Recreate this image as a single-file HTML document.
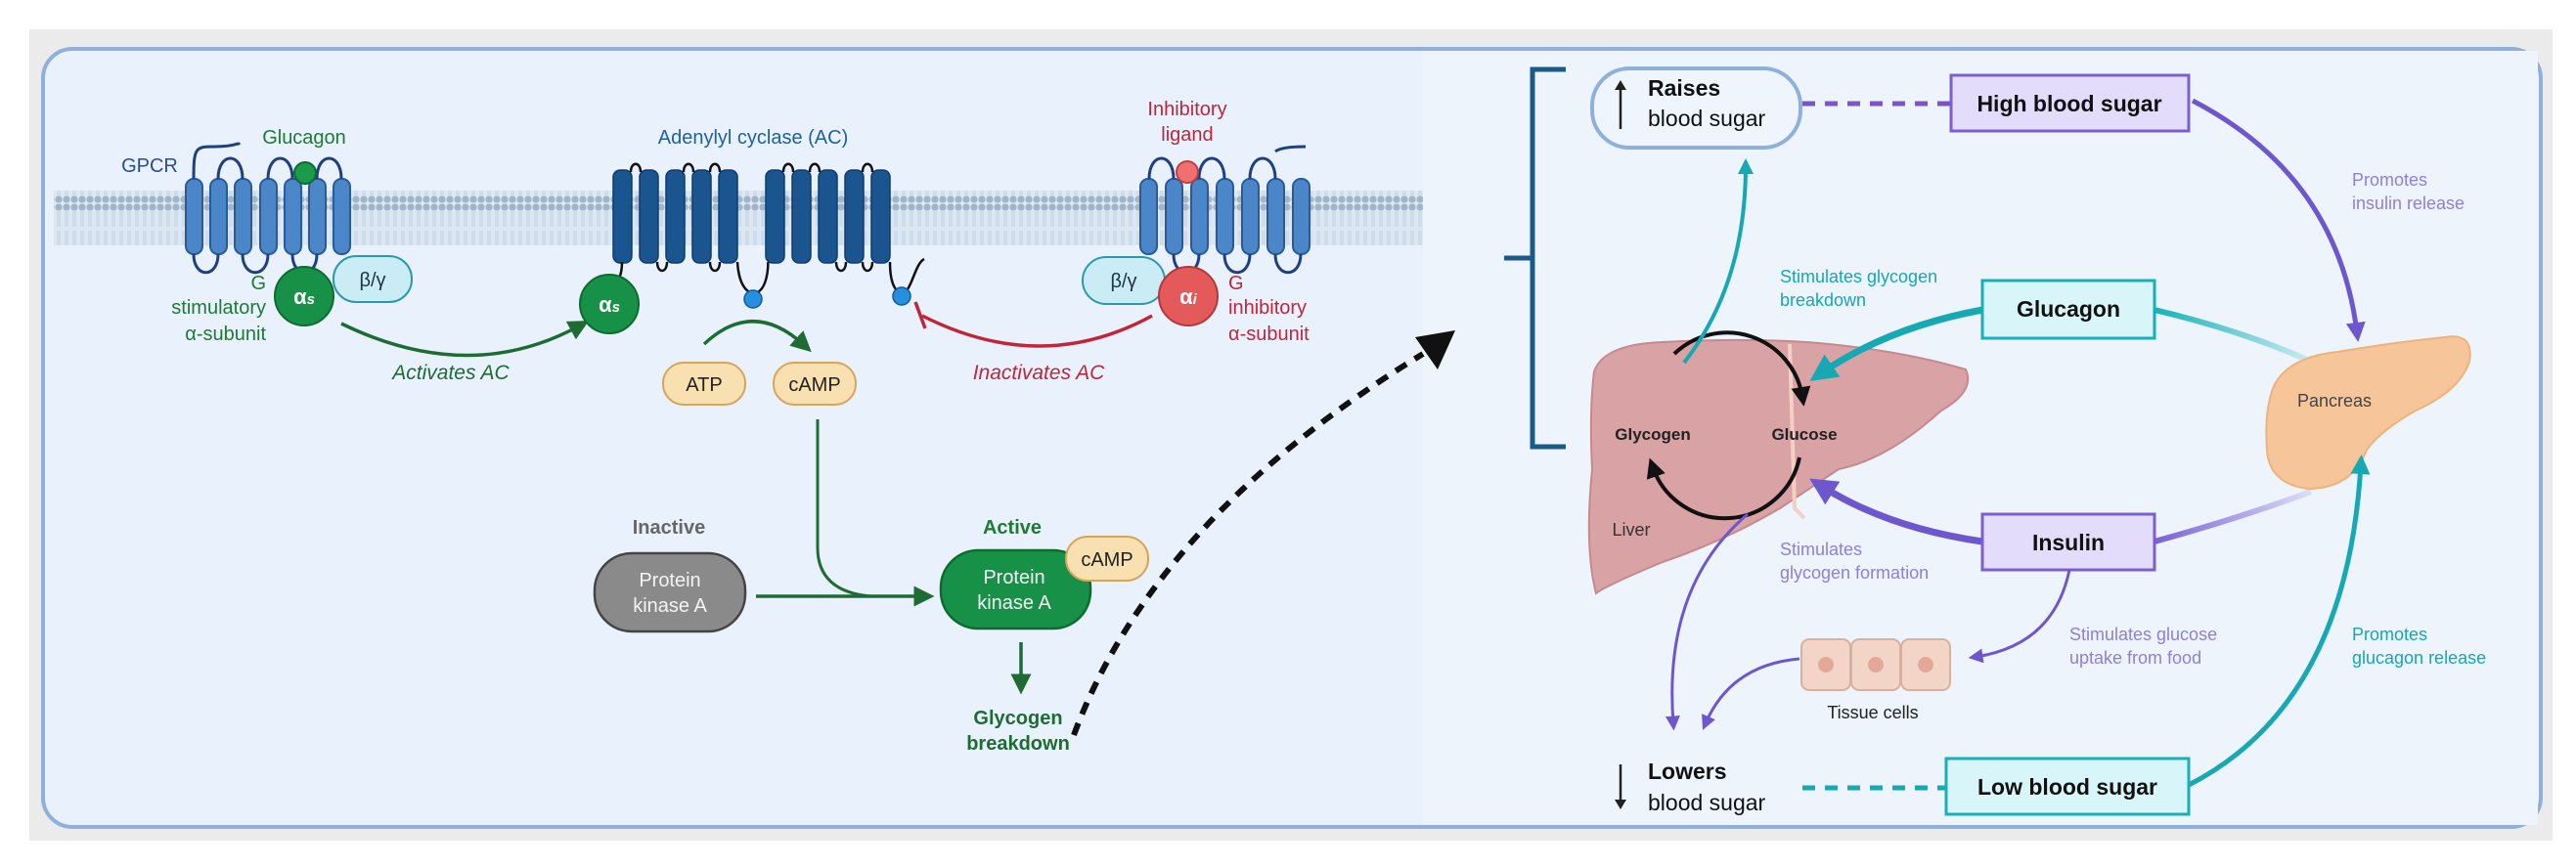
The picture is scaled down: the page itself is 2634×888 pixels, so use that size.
<!DOCTYPE html>
<html><head><meta charset="utf-8"><style>
html,body{margin:0;padding:0;background:#fff;}
svg{display:block;font-family:"Liberation Sans",sans-serif;}
</style></head><body>
<svg width="2634" height="888" viewBox="0 0 2634 888" xmlns="http://www.w3.org/2000/svg">
<defs>
<pattern id="lip" x="0" y="0" width="8" height="52" patternUnits="userSpaceOnUse">
<rect width="8" height="52" fill="#dbe7f3"/>
<circle cx="4" cy="4" r="3.6" fill="#a3b6c9"/>
<circle cx="4" cy="48" r="3.6" fill="#a3b6c9"/>
<line x1="3" y1="8" x2="3" y2="24" stroke="#c3d2e0" stroke-width="1"/>
<line x1="5" y1="8" x2="5" y2="24" stroke="#c3d2e0" stroke-width="1"/>
<line x1="3" y1="28" x2="3" y2="44" stroke="#c3d2e0" stroke-width="1"/>
<line x1="5" y1="28" x2="5" y2="44" stroke="#c3d2e0" stroke-width="1"/>
</pattern>
<marker id="mg" markerWidth="6" markerHeight="6" refX="3" refY="3" orient="auto" markerUnits="strokeWidth"><path d="M0,0 L6,3 L0,6 Z" fill="#1e6b34"/></marker>
<marker id="mk" markerWidth="5" markerHeight="5" refX="2.5" refY="2.5" orient="auto" markerUnits="strokeWidth"><path d="M0,0 L5,2.5 L0,5 Z" fill="#111"/></marker>
<marker id="mt" markerWidth="4" markerHeight="4" refX="2" refY="2" orient="auto" markerUnits="strokeWidth"><path d="M0,0 L4,2 L0,4 Z" fill="#17a9b3"/></marker>
<marker id="mp" markerWidth="4" markerHeight="4" refX="2" refY="2" orient="auto" markerUnits="strokeWidth"><path d="M0,0 L4,2 L0,4 Z" fill="#6e56cf"/></marker>
<marker id="mp2" markerWidth="5" markerHeight="5" refX="2.5" refY="2.5" orient="auto" markerUnits="strokeWidth"><path d="M0,0 L5,2.5 L0,5 Z" fill="#6e56cf"/></marker>
<linearGradient id="gg" gradientUnits="userSpaceOnUse" x1="2203" y1="317" x2="2372" y2="374"><stop offset="0" stop-color="#17b2b8"/><stop offset="1" stop-color="#17b2b8" stop-opacity="0.1"/></linearGradient>
<linearGradient id="gi" gradientUnits="userSpaceOnUse" x1="2203" y1="554" x2="2363" y2="503"><stop offset="0" stop-color="#7a62d6"/><stop offset="1" stop-color="#7a62d6" stop-opacity="0.15"/></linearGradient>
</defs>
<rect x="30" y="30" width="2580" height="830" fill="#ebebeb"/>
<rect x="44" y="50" width="2554" height="796" rx="30" fill="#e9f2fc" stroke="#8fb0dc" stroke-width="4"/>
<rect x="1455" y="52" width="1140" height="792" fill="#edf4fc"/>
<!-- membrane -->
<rect x="55" y="195" width="1400" height="56" fill="url(#lip)"/>
<!-- left GPCR -->
<g fill="#4a86c8" stroke="#2a5a9a" stroke-width="2">
<rect x="190" y="183" width="17" height="77" rx="8"/><rect x="215" y="183" width="17" height="77" rx="8"/><rect x="240" y="183" width="17" height="77" rx="8"/><rect x="266" y="183" width="17" height="77" rx="8"/><rect x="291" y="183" width="17" height="77" rx="8"/><rect x="316" y="183" width="17" height="77" rx="8"/><rect x="341" y="183" width="17" height="77" rx="8"/>
</g>
<g fill="none" stroke="#1f3f80" stroke-width="3">
<path d="M198,183 C198,150 200,150 220,150 C243,150 243,145 245,148"/>
<path d="M223,183 C223,155 248,155 248,183"/><path d="M274,183 C274,155 299,155 299,183"/><path d="M324,183 C324,155 349,155 349,183"/>
<path d="M198,260 C198,285 223,285 223,260"/><path d="M248,260 C248,285 274,285 274,260"/><path d="M299,260 C299,285 324,285 324,260"/>
</g>
<circle cx="312" cy="177" r="11" fill="#1a9a4a" stroke="#0d6b2e" stroke-width="2"/>
<text x="153" y="176" font-size="20" fill="#2a4f8e" text-anchor="middle">GPCR</text>
<text x="311" y="147" font-size="20" fill="#1e7a34" text-anchor="middle">Glucagon</text>
<rect x="341" y="262" width="80" height="47" rx="23" fill="#c9ecf5" stroke="#2a9aaa" stroke-width="2"/>
<text x="381" y="293" font-size="20" fill="#234" text-anchor="middle">β/γ</text>
<circle cx="311" cy="303" r="30" fill="#179147" stroke="#0d6b2e" stroke-width="2"/>
<text x="311" y="311" font-size="22" font-weight="bold" fill="#fff" text-anchor="middle">α<tspan font-size="15" font-style="italic">s</tspan></text>
<g font-size="20" fill="#1e7a34" text-anchor="end"><text x="272" y="296">G</text><text x="272" y="321">stimulatory</text><text x="272" y="348">α-subunit</text></g>
<path d="M349,331 Q480,395 593,333" fill="none" stroke="#1e6b34" stroke-width="3.5" marker-end="url(#mg)"/>
<text x="461" y="388" font-size="21" font-style="italic" fill="#1e6b34" text-anchor="middle">Activates AC</text>
<!-- AC -->
<g fill="#1a5590" stroke="#0e3d6e" stroke-width="1.5">
<rect x="627" y="174" width="19" height="95" rx="7"/><rect x="654" y="174" width="19" height="95" rx="7"/><rect x="681" y="174" width="19" height="95" rx="7"/><rect x="708" y="174" width="19" height="95" rx="7"/><rect x="735" y="174" width="19" height="95" rx="7"/>
<rect x="783" y="174" width="19" height="95" rx="7"/><rect x="810" y="174" width="19" height="95" rx="7"/><rect x="837" y="174" width="19" height="95" rx="7"/><rect x="864" y="174" width="19" height="95" rx="7"/><rect x="891" y="174" width="19" height="95" rx="7"/>
</g>
<g fill="none" stroke="#111" stroke-width="2.5">
<path d="M645,176 C645,165 655,165 655,176"/><path d="M699,176 C699,165 709,165 709,176"/><path d="M726,176 C726,165 736,165 736,176"/>
<path d="M801,176 C801,165 811,165 811,176"/><path d="M828,176 C828,165 838,165 838,176"/><path d="M882,176 C882,165 892,165 892,176"/>
<path d="M672,268 C672,280 682,280 682,268"/><path d="M726,268 C726,280 736,280 736,268"/><path d="M855,268 C855,280 865,280 865,268"/><path d="M882,268 C882,280 892,280 892,268"/>
<path d="M754,268 C756,300 770,300 770,300 C785,300 786,270 785,268"/>
<path d="M910,268 C910,300 922,300 922,300 C932,300 935,270 945,265"/>
<path d="M636,268 C636,285 630,290 626,290"/>
</g>
<circle cx="770" cy="306" r="9" fill="#2a8ee0" stroke="#0e5a9e" stroke-width="1.5"/>
<circle cx="922" cy="303" r="9" fill="#2a8ee0" stroke="#0e5a9e" stroke-width="1.5"/>
<text x="770" y="147" font-size="20" fill="#1f5f9f" text-anchor="middle">Adenylyl cyclase (AC)</text>
<circle cx="623" cy="311" r="30" fill="#179147" stroke="#0d6b2e" stroke-width="2"/>
<text x="623" y="319" font-size="22" font-weight="bold" fill="#fff" text-anchor="middle">α<tspan font-size="15" font-style="italic">s</tspan></text>
<path d="M720,352 Q770,305 822,353" fill="none" stroke="#1e6b34" stroke-width="3.5" marker-end="url(#mg)"/>
<rect x="678" y="371" width="84" height="43" rx="21" fill="#f9e0b0" stroke="#d5a55c" stroke-width="2"/>
<text x="720" y="400" font-size="20" fill="#222" text-anchor="middle">ATP</text>
<rect x="791" y="371" width="84" height="43" rx="21" fill="#f9e0b0" stroke="#d5a55c" stroke-width="2"/>
<text x="833" y="400" font-size="20" fill="#222" text-anchor="middle">cAMP</text>
<!-- inhibit -->
<path d="M1178,323 Q1065,385 943,323" fill="none" stroke="#c0253a" stroke-width="3.5"/>
<line x1="936" y1="309" x2="946" y2="336" stroke="#c0253a" stroke-width="3.5"/>
<text x="1062" y="388" font-size="21" font-style="italic" fill="#c0253a" text-anchor="middle">Inactivates AC</text>
<text x="1214" y="118" font-size="20" fill="#c0253a" text-anchor="middle">Inhibitory</text>
<text x="1214" y="144" font-size="20" fill="#c0253a" text-anchor="middle">ligand</text>
<g fill="#4a86c8" stroke="#2a5a9a" stroke-width="2">
<rect x="1166" y="183" width="17" height="77" rx="8"/><rect x="1192" y="183" width="17" height="77" rx="8"/><rect x="1218" y="183" width="17" height="77" rx="8"/><rect x="1244" y="183" width="17" height="77" rx="8"/><rect x="1270" y="183" width="17" height="77" rx="8"/><rect x="1296" y="183" width="17" height="77" rx="8"/><rect x="1322" y="183" width="17" height="77" rx="8"/>
</g>
<g fill="none" stroke="#1f3f80" stroke-width="3">
<path d="M1175,183 C1175,155 1200,155 1200,183"/><path d="M1226,183 C1226,155 1252,155 1252,183"/><path d="M1278,183 C1278,155 1304,155 1304,183"/>
<path d="M1304,155 C1310,150 1330,150 1335,150"/>
<path d="M1200,260 C1200,285 1226,285 1226,260"/><path d="M1252,260 C1252,285 1278,285 1278,260"/><path d="M1304,260 C1304,285 1330,285 1330,260"/>
</g>
<circle cx="1214" cy="176" r="11" fill="#f07070" stroke="#c04040" stroke-width="2"/>
<rect x="1107" y="263" width="84" height="48" rx="24" fill="#c9ecf5" stroke="#2a9aaa" stroke-width="2"/>
<text x="1149" y="294" font-size="20" fill="#234" text-anchor="middle">β/γ</text>
<circle cx="1215" cy="303" r="30" fill="#e45a5a" stroke="#b03a3a" stroke-width="2"/>
<text x="1215" y="311" font-size="22" font-weight="bold" fill="#fff" text-anchor="middle">α<tspan font-size="15" font-style="italic">i</tspan></text>
<g font-size="20" fill="#c0253a"><text x="1256" y="296">G</text><text x="1256" y="321">inhibitory</text><text x="1256" y="348">α-subunit</text></g>
<!-- PKA -->
<path d="M836,429 L836,560 Q836,605 890,610 L950,610" fill="none" stroke="#1e6b34" stroke-width="3"/>
<path d="M773,610 L945,610" fill="none" stroke="#1e6b34" stroke-width="3.5" marker-end="url(#mg)"/>
<text x="684" y="546" font-size="20" font-weight="bold" fill="#666" text-anchor="middle">Inactive</text>
<rect x="608" y="566" width="154" height="80" rx="38" fill="#8a8a8a" stroke="#444" stroke-width="2.5"/>
<text x="685" y="600" font-size="20" fill="#f4f4f4" text-anchor="middle">Protein</text>
<text x="685" y="626" font-size="20" fill="#f4f4f4" text-anchor="middle">kinase A</text>
<text x="1035" y="546" font-size="20" font-weight="bold" fill="#1e7a34" text-anchor="middle">Active</text>
<rect x="962" y="563" width="153" height="80" rx="38" fill="#179147" stroke="#0d6b2e" stroke-width="2.5"/>
<text x="1037" y="597" font-size="20" fill="#f4f4f4" text-anchor="middle">Protein</text>
<text x="1037" y="623" font-size="20" fill="#f4f4f4" text-anchor="middle">kinase A</text>
<rect x="1090" y="549" width="84" height="45" rx="22" fill="#f9e0b0" stroke="#d5a55c" stroke-width="2"/>
<text x="1132" y="579" font-size="20" fill="#222" text-anchor="middle">cAMP</text>
<line x1="1044" y1="657" x2="1044" y2="700" stroke="#1e6b34" stroke-width="3.5" marker-end="url(#mg)"/>
<text x="1041" y="741" font-size="20" font-weight="bold" fill="#1e6b34" text-anchor="middle">Glycogen</text>
<text x="1041" y="767" font-size="20" font-weight="bold" fill="#1e6b34" text-anchor="middle">breakdown</text>
<path d="M1098,752 Q1180,530 1455,362" fill="none" stroke="#111" stroke-width="6" stroke-dasharray="13,10"/>
<path d="M1447,345 L1488,338 L1470,378 Z" fill="#111"/>
<!-- right panel -->
<path d="M1601,71 L1567,71 L1567,457 L1601,457 M1567,264 L1538,264" fill="none" stroke="#1a5a8a" stroke-width="5"/>
<rect x="1628" y="70" width="213" height="81" rx="38" fill="#eef5fc" stroke="#8fb0dc" stroke-width="4"/>
<line x1="1657" y1="132" x2="1657" y2="88" stroke="#222" stroke-width="2.5"/><path d="M1651,92 L1657,82 L1663,92 Z" fill="#222"/>
<text x="1685" y="98" font-size="23" font-weight="bold" fill="#111">Raises</text>
<text x="1685" y="129" font-size="23" fill="#111">blood sugar</text>
<line x1="1843" y1="106" x2="1995" y2="106" stroke="#7a55c8" stroke-width="5" stroke-dasharray="13,10"/>
<rect x="1995" y="77" width="243" height="57" fill="#e3dcfa" stroke="#7b5fd0" stroke-width="3"/>
<text x="2116" y="114" font-size="23" font-weight="bold" fill="#111" text-anchor="middle">High blood sugar</text>
<path d="M2242,103 Q2390,180 2410,340" fill="none" stroke="#6e56cf" stroke-width="5" marker-end="url(#mp)"/>
<text x="2405" y="190" font-size="18" fill="#8f7fd6">Promotes</text>
<text x="2405" y="214" font-size="18" fill="#8f7fd6">insulin release</text>
<!-- liver -->
<path d="M1630,380 Q1640,352 1700,350 Q1800,345 1870,352 Q1950,360 2010,378 Q2020,400 1985,420 Q1930,470 1880,480 Q1850,500 1820,520 Q1760,555 1700,575 Q1640,600 1632,607 Q1620,560 1628,480 Q1625,420 1630,380 Z" fill="#d9a2a4" stroke="#c48a8e" stroke-width="2"/>
<path d="M1830,352 L1835,520 L1845,530" fill="none" stroke="#f3cfc6" stroke-width="4"/>
<path d="M1712,362 A78,78 0 0 1 1843,406" fill="none" stroke="#111" stroke-width="4" marker-end="url(#mk)"/>
<path d="M1840,468 A78,78 0 0 1 1690,478" fill="none" stroke="#111" stroke-width="4" marker-end="url(#mk)"/>
<text x="1690" y="450" font-size="17" font-weight="bold" fill="#222" text-anchor="middle">Glycogen</text>
<text x="1845" y="450" font-size="17" font-weight="bold" fill="#222" text-anchor="middle">Glucose</text>
<text x="1668" y="548" font-size="18" fill="#333" text-anchor="middle">Liver</text>
<!-- teal up -->
<path d="M1722,371 Q1785,290 1785,170" fill="none" stroke="#17a9b3" stroke-width="4" marker-end="url(#mt)"/>
<!-- glucagon -->
<path d="M2027,317 Q1930,335 1862,382" fill="none" stroke="#17a9b3" stroke-width="7" marker-end="url(#mt)"/>
<path d="M2203,317 Q2300,340 2372,374" fill="none" stroke="url(#gg)" stroke-width="6"/>
<rect x="2027" y="287" width="176" height="59" fill="#d8f6fa" stroke="#18b0b8" stroke-width="3"/>
<text x="2115" y="324" font-size="23" font-weight="bold" fill="#111" text-anchor="middle">Glucagon</text>
<text x="1820" y="289" font-size="18" fill="#17a7b4">Stimulates glycogen</text>
<text x="1820" y="313" font-size="18" fill="#17a7b4">breakdown</text>
<!-- insulin -->
<path d="M2027,554 Q1930,540 1862,497" fill="none" stroke="#6e56cf" stroke-width="7" marker-end="url(#mp)"/>
<path d="M2203,554 Q2290,530 2363,503" fill="none" stroke="url(#gi)" stroke-width="6"/>
<rect x="2027" y="526" width="176" height="57" fill="#e3dcfa" stroke="#7b5fd0" stroke-width="3"/>
<text x="2115" y="563" font-size="23" font-weight="bold" fill="#111" text-anchor="middle">Insulin</text>
<text x="1820" y="568" font-size="18" fill="#8f7fd6">Stimulates</text>
<text x="1820" y="592" font-size="18" fill="#8f7fd6">glycogen formation</text>
<!-- pancreas -->
<path d="M2325,395 Q2340,365 2390,360 Q2450,350 2500,345 Q2530,340 2525,370 Q2515,400 2470,420 Q2435,440 2420,460 Q2405,500 2360,500 Q2320,495 2318,460 Q2315,420 2325,395 Z" fill="#f6c69a" stroke="#eeb27c" stroke-width="2"/>
<text x="2387" y="416" font-size="18" fill="#444" text-anchor="middle">Pancreas</text>
<path d="M2238,803 Q2400,720 2414,475" fill="none" stroke="#17a9b3" stroke-width="5" marker-end="url(#mt)"/>
<text x="2405" y="655" font-size="18" fill="#17a7b4">Promotes</text>
<text x="2405" y="679" font-size="18" fill="#17a7b4">glucagon release</text>
<!-- tissue -->
<path d="M2116,583 Q2100,660 2020,672" fill="none" stroke="#6e56cf" stroke-width="3" marker-end="url(#mp2)"/>
<text x="2116" y="655" font-size="18" fill="#8f7fd6">Stimulates glucose</text>
<text x="2116" y="679" font-size="18" fill="#8f7fd6">uptake from food</text>
<g fill="#f3d5c8" stroke="#d8b0a0" stroke-width="2">
<rect x="1842" y="654" width="50" height="52" rx="8"/><rect x="1893" y="654" width="50" height="52" rx="8"/><rect x="1944" y="654" width="50" height="52" rx="8"/>
</g>
<g fill="#e4a898"><circle cx="1867" cy="680" r="8"/><circle cx="1918" cy="680" r="8"/><circle cx="1969" cy="680" r="8"/></g>
<text x="1915" y="735" font-size="18" fill="#222" text-anchor="middle">Tissue cells</text>
<path d="M1840,674 Q1770,680 1744,740" fill="none" stroke="#6e56cf" stroke-width="3" marker-end="url(#mp2)"/>
<path d="M1787,526 Q1700,600 1711,740" fill="none" stroke="#6e56cf" stroke-width="3" marker-end="url(#mp2)"/>
<line x1="1657" y1="782" x2="1657" y2="822" stroke="#222" stroke-width="2.5"/><path d="M1651,818 L1657,828 L1663,818 Z" fill="#222"/>
<text x="1685" y="797" font-size="23" font-weight="bold" fill="#111">Lowers</text>
<text x="1685" y="829" font-size="23" fill="#111">blood sugar</text>
<line x1="1843" y1="806" x2="1990" y2="806" stroke="#17a9b3" stroke-width="5" stroke-dasharray="13,10"/>
<rect x="1990" y="776" width="248" height="57" fill="#d8f6fa" stroke="#18b0b8" stroke-width="3"/>
<text x="2114" y="813" font-size="23" font-weight="bold" fill="#111" text-anchor="middle">Low blood sugar</text>
</svg>
</body></html>
